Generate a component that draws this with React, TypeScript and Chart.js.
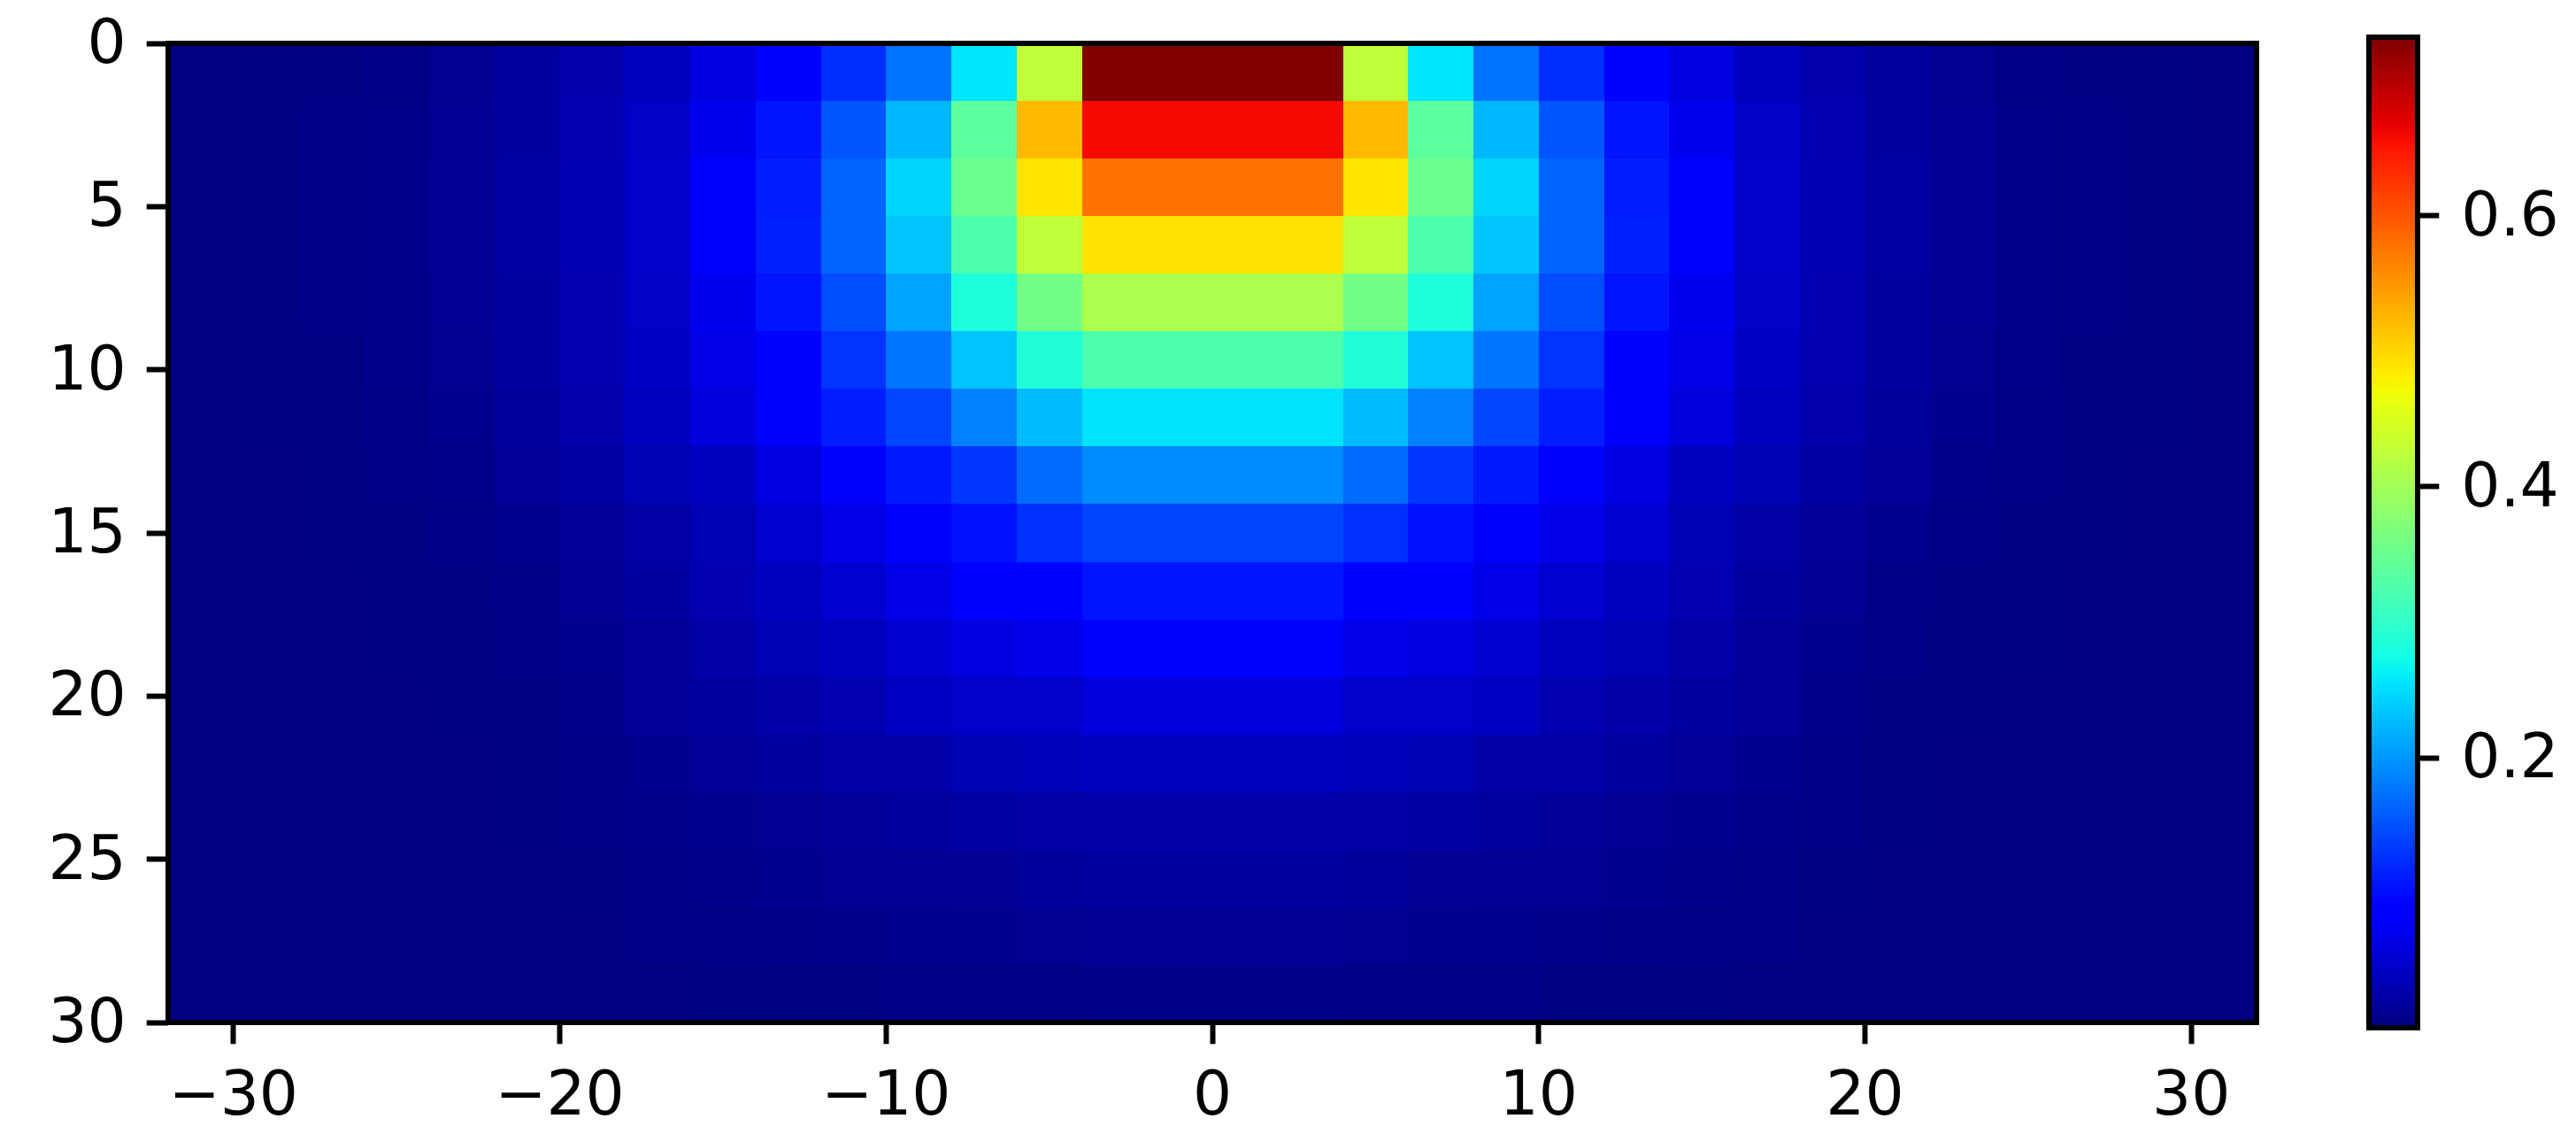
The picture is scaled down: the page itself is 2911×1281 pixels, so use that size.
import React, { useEffect, useRef } from "react";
import { Chart, registerables } from "chart.js";

Chart.register(...registerables);

const WIDTH = 2911;
const HEIGHT = 1281;
const FONT = { family: "'DejaVu Sans'", size: 69.4 };
const LINE = 6;

const vMin = 0.001;
const vMax = 0.7316;

const xTickValues = [-30, -20, -10, 0, 10, 20, 30];
const yTickValues = [0, 5, 10, 15, 20, 25, 30];
const barTickValues = [0.2, 0.4, 0.6];

// left edges of the left half columns, the picture is mirrored about x = 0
const halfColumnStarts = [-32, -30, -28, -26, -24, -22, -20, -18, -16, -14, -12, -10, -8, -6, -4, -2];
const rowCount = 17;

const row00 = [0.002, 0.003, 0.004, 0.007, 0.012, 0.019, 0.029, 0.041, 0.062, 0.085, 0.125, 0.175, 0.257, 0.425, 0.7316, 0.7316];
const row01 = [0.002, 0.003, 0.005, 0.008, 0.013, 0.021, 0.032, 0.046, 0.072, 0.107, 0.154, 0.224, 0.339, 0.522, 0.659, 0.659];
const row02 = [0.002, 0.003, 0.005, 0.008, 0.014, 0.022, 0.033, 0.048, 0.081, 0.113, 0.165, 0.244, 0.352, 0.488, 0.578, 0.578];
const row03 = [0.002, 0.003, 0.005, 0.008, 0.014, 0.022, 0.033, 0.048, 0.082, 0.115, 0.165, 0.235, 0.325, 0.425, 0.49, 0.49];
const row04 = [0.002, 0.003, 0.005, 0.008, 0.013, 0.021, 0.032, 0.046, 0.072, 0.107, 0.147, 0.209, 0.282, 0.359, 0.409, 0.409];
const row05 = [0.002, 0.003, 0.004, 0.008, 0.012, 0.02, 0.031, 0.045, 0.067, 0.089, 0.129, 0.176, 0.233, 0.286, 0.325, 0.325];
const row06 = [0.002, 0.003, 0.004, 0.007, 0.011, 0.018, 0.028, 0.04, 0.059, 0.083, 0.113, 0.143, 0.184, 0.227, 0.255, 0.255];
const row07 = [0.002, 0.002, 0.003, 0.005, 0.008, 0.017, 0.022, 0.034, 0.041, 0.062, 0.083, 0.11, 0.132, 0.169, 0.192, 0.192];
const row08 = [0.001, 0.002, 0.003, 0.004, 0.005, 0.01, 0.017, 0.024, 0.034, 0.052, 0.067, 0.083, 0.103, 0.127, 0.141, 0.141];
const row09 = [0.001, 0.002, 0.002, 0.003, 0.004, 0.007, 0.013, 0.021, 0.032, 0.041, 0.052, 0.067, 0.085, 0.085, 0.107, 0.107];
const row10 = [0.001, 0.001, 0.002, 0.003, 0.003, 0.005, 0.01, 0.017, 0.027, 0.034, 0.041, 0.052, 0.062, 0.067, 0.083, 0.083];
const row11 = [0.001, 0.001, 0.002, 0.002, 0.003, 0.004, 0.008, 0.017, 0.021, 0.027, 0.032, 0.042, 0.048, 0.048, 0.059, 0.059];
const row12 = [0.001, 0.001, 0.001, 0.002, 0.002, 0.003, 0.006, 0.011, 0.017, 0.019, 0.024, 0.027, 0.034, 0.036, 0.04, 0.04];
const row13 = [0.001, 0.001, 0.001, 0.001, 0.002, 0.003, 0.005, 0.009, 0.011, 0.013, 0.017, 0.02, 0.022, 0.024, 0.027, 0.027];
const row14 = [0.001, 0.001, 0.001, 0.001, 0.001, 0.002, 0.003, 0.006, 0.009, 0.011, 0.013, 0.014, 0.016, 0.018, 0.02, 0.02];
const row15 = [0.001, 0.001, 0.001, 0.001, 0.001, 0.002, 0.002, 0.005, 0.006, 0.007, 0.009, 0.01, 0.011, 0.012, 0.013, 0.013];
const row16 = [0.001, 0.001, 0.001, 0.001, 0.001, 0.001, 0.001, 0.002, 0.003, 0.003, 0.004, 0.005, 0.005, 0.006, 0.007, 0.007];

const rows = [row00, row01, row02, row03, row04, row05, row06, row07, row08, row09, row10, row11, row12, row13, row14, row15, row16];

const jetStops: [number, number, number, number][] = [
  [0, 0, 0, 0.5],
  [0.11, 0, 0, 1],
  [0.125, 0, 0, 1],
  [0.34, 0, 0.86, 1],
  [0.35, 0, 0.9, 0.985],
  [0.375, 0.0806, 1, 0.9],
  [0.64, 0.936, 1, 0.0323],
  [0.65, 0.968, 0.963, 0],
  [0.66, 1, 0.926, 0],
  [0.89, 1, 0.0741, 0],
  [0.91, 0.909, 0, 0],
  [1, 0.5, 0, 0],
];

function jetColor(t: number): string {
  const c = Math.min(1, Math.max(0, t));
  let i = 0;
  while (i < jetStops.length - 2 && c > jetStops[i + 1][0]) i++;
  const a = jetStops[i];
  const b = jetStops[i + 1];
  const f = (c - a[0]) / (b[0] - a[0]);
  const ch = (k: number) => Math.round((a[k] + (b[k] - a[k]) * f) * 255);
  return `rgb(${ch(1)},${ch(2)},${ch(3)})`;
}

const valueColor = (v: number) => jetColor((v - vMin) / (vMax - vMin));

const cells: { x: number; y: [number, number]; v: number }[] = [];
rows.forEach((row, r) => {
  const y: [number, number] = [(r * 30) / rowCount, ((r + 1) * 30) / rowCount];
  row.forEach((v, c) => {
    const start = halfColumnStarts[c];
    cells.push({ x: start + 1, y, v });
    cells.push({ x: -start - 1, y, v });
  });
});

// Snap the cells to whole pixels, as an image would be, so no seams show between them.
const snapCells = {
  id: "snapCells",
  afterDatasetsUpdate(chart: any) {
    chart.getDatasetMeta(0).data.forEach((el: any) => {
      const left = Math.round(el.x - el.width / 2);
      const right = Math.round(el.x + el.width / 2);
      el.x = (left + right) / 2;
      el.width = right - left;
      el.y = Math.round(el.y);
      el.base = Math.round(el.base);
    });
  },
};

const frame = {
  id: "frame",
  afterDraw(chart: any) {
    const { left, top, right, bottom } = chart.chartArea;
    const ctx = chart.ctx;
    ctx.save();
    ctx.strokeStyle = "#000";
    ctx.lineWidth = LINE;
    ctx.strokeRect(left, top, right - left, bottom - top);
    ctx.restore();
  },
};

// Nudge the labels of a vertical axis, so the digits sit on the tick as in the reference.
const nudgeLabels = (dy: number) => ({
  id: "nudgeLabels",
  beforeDraw(chart: any) {
    const items = chart.scales.y.getLabelItems();
    items.forEach((item: any) => {
      if (!item.nudged) {
        item.options.translation = [item.options.translation[0], item.options.translation[1] + dy];
        item.nudged = true;
      }
    });
  },
});

const tickGrid = {
  drawOnChartArea: false,
  drawTicks: true,
  tickLength: 24.3,
  tickWidth: LINE,
  tickColor: "#000",
  offset: false,
};

const pin = (s: any, width: number | null, height: number | null) => {
  if (width !== null) s.width = width;
  if (height !== null) s.height = height;
  s.paddingTop = 0;
  s.paddingBottom = 0;
  s.paddingLeft = 0;
  s.paddingRight = 0;
};

export default function App() {
  const mainRef = useRef<HTMLCanvasElement>(null);
  const barRef = useRef<HTMLCanvasElement>(null);

  useEffect(() => {
    const main = new Chart(mainRef.current!, {
      type: "bar",
      data: {
        datasets: [
          {
            data: cells as any,
            backgroundColor: cells.map((c) => valueColor(c.v)),
            borderWidth: 0,
            inflateAmount: 0,
            barPercentage: 1,
            categoryPercentage: 1,
          } as any,
        ],
      },
      options: {
        responsive: false,
        animation: false,
        events: [],
        layout: { padding: { left: 0, top: 49, right: 361, bottom: 0 } },
        plugins: { legend: { display: false }, tooltip: { enabled: false } },
        scales: {
          x: {
            type: "linear",
            min: -32,
            max: 32,
            offset: false,
            grid: tickGrid,
            border: { display: false },
            afterBuildTicks: (s: any) => {
              s.ticks = xTickValues.map((value) => ({ value }));
            },
            afterFit: (s: any) => pin(s, null, 126),
            ticks: {
              autoSkip: false,
              maxRotation: 0,
              color: "#000",
              font: FONT,
              padding: 20,
              callback: (v: any) => (v < 0 ? `\u2212${-v}` : `${v}`),
            },
          },
          y: {
            type: "linear",
            reverse: true,
            min: 0,
            max: 30,
            grid: tickGrid,
            border: { display: false },
            afterBuildTicks: (s: any) => {
              s.ticks = yTickValues.map((value) => ({ value }));
            },
            afterFit: (s: any) => pin(s, 190, null),
            ticks: { autoSkip: false, color: "#000", font: FONT, padding: 23, callback: (v: any) => `${v}` },
          },
        },
      } as any,
      plugins: [snapCells, frame, nudgeLabels(4)],
    });

    const bar = new Chart(barRef.current!, {
      type: "bar",
      data: {
        labels: [""],
        datasets: [
          {
            data: [[vMin, vMax]] as any,
            borderWidth: 0,
            inflateAmount: 0,
            barPercentage: 1,
            categoryPercentage: 1,
            backgroundColor: (ctx: any) => {
              const { chart } = ctx;
              const s = chart.scales.y;
              if (!s || !chart.chartArea) return "#000";
              const g = chart.ctx.createLinearGradient(0, s.getPixelForValue(vMin), 0, s.getPixelForValue(vMax));
              jetStops.forEach((stop) => g.addColorStop(stop[0], jetColor(stop[0])));
              return g;
            },
          } as any,
        ],
      },
      options: {
        responsive: false,
        animation: false,
        events: [],
        layout: { padding: { left: 2677, top: 42, right: 0, bottom: 120 } },
        plugins: { legend: { display: false }, tooltip: { enabled: false } },
        scales: {
          x: { display: false },
          y: {
            type: "linear",
            position: "right",
            min: vMin,
            max: vMax,
            grid: tickGrid,
            border: { display: false },
            afterBuildTicks: (s: any) => {
              s.ticks = barTickValues.map((value) => ({ value }));
            },
            afterFit: (s: any) => pin(s, 179, null),
            ticks: { autoSkip: false, color: "#000", font: FONT, padding: 25, callback: (v: any) => Number(v).toFixed(1) },
          },
        },
      } as any,
      plugins: [frame, nudgeLabels(4)],
    });

    return () => {
      main.destroy();
      bar.destroy();
    };
  }, []);

  const layer: React.CSSProperties = { position: "absolute", left: 0, top: 0, display: "block" };
  return (
    <div style={{ position: "fixed", left: 0, top: 0, width: WIDTH, height: HEIGHT, overflow: "hidden", background: "#fff" }}>
      <canvas ref={mainRef} width={WIDTH} height={HEIGHT} style={layer} />
      <canvas ref={barRef} width={WIDTH} height={HEIGHT} style={layer} />
    </div>
  );
}
